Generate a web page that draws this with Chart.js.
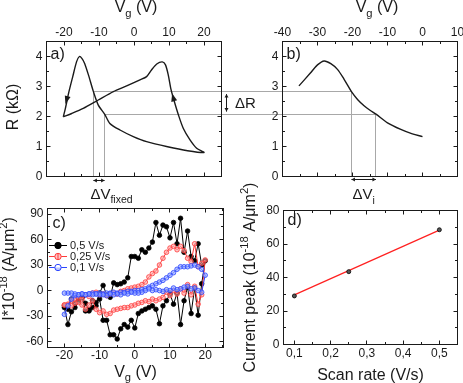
<!DOCTYPE html>
<html>
<head>
<meta charset="utf-8">
<title>Resistance hysteresis and current peaks</title>
<script src="https://cdn.jsdelivr.net/npm/chart.js@4.4.1/dist/chart.umd.min.js"></script>
<style>
  html, body { margin: 0; padding: 0; background: #fff; }
  #figure { position: relative; width: 463px; height: 383px; overflow: hidden; }
  #figure canvas { position: absolute; left: 0; top: 0; }
</style>
</head>
<body>
<div id="figure">
  <canvas id="panelA" width="463" height="383"></canvas>
  <canvas id="panelB" width="463" height="383"></canvas>
  <canvas id="panelC" width="463" height="383"></canvas>
  <canvas id="panelD" width="463" height="383"></canvas>
</div>
<script>
const W = 463, H = 383;
const FONT = '"Liberation Sans", Arial, sans-serif';
const INK = '#1a1a1a';
const GUIDE = '#a8a8a8';

// ---------- a) R(Vg) loop, fixed sweep ----------
const loopVg = [-20.2, -17.8, -14.5, -10.2, -5.9, -2.1, 1.7, 3.6, 5.0, 6.5, 8.1, 9.0, 9.8, 10.5, 11.4, 12.7, 14.1, 16.0, 17.9, 20.0,
  15.3, 9.6, 3.6, -0.2, -4.0, -6.9, -8.4, -10.2, -11.6, -13.0, -14.1, -14.9, -15.6, -16.4, -17.5, -18.7, -19.6, -20.2];
const loopR = [1.99, 2.10, 2.27, 2.55, 2.83, 3.02, 3.22, 3.33, 3.55, 3.75, 3.82, 3.72, 3.38, 2.94, 2.55, 2.05, 1.60, 1.22, 0.94, 0.80,
  0.86, 0.99, 1.16, 1.33, 1.55, 1.77, 2.08, 2.38, 2.83, 3.38, 3.77, 3.94, 4.00, 3.83, 3.33, 2.77, 2.27, 1.99];
// sweep-direction arrows on the loop (tail point -> tip point)
const arrowTail = [[-18.7, 2.77], [11.4, 2.55]];
const arrowTip = [[-19.6, 2.42], [10.9, 2.77]];

// ---------- b) R(Vg) single sweep ----------
const sweepVg = [-35.3, -32.1, -30.0, -28.1, -26.2, -24.3, -22.4, -20.3, -18.5, -16.7, -15.0, -13.3, -10.0, -6.2, -2.9, 0.0];
const sweepR = [3.02, 3.44, 3.72, 3.85, 3.76, 3.57, 3.24, 2.83, 2.56, 2.36, 2.21, 2.08, 1.79, 1.57, 1.42, 1.33];

// Delta R levels and the gate voltages where they are reached
const dRLevels = [2.83, 2.08];
const fixedVg = [-11.6, -8.4];
const singleVg = [-20.3, -13.3];

// ---------- c) I(Vg) loops for three scan rates ----------
const vgUp = [-20, -19, -18, -17, -16, -15, -14, -13, -12, -11, -10, -9, -8, -7, -6, -5, -4, -3, -2, -1,
  0, 1, 2, 3, 4, 5, 6, 7, 8, 9, 10, 11, 12, 13, 14, 15, 16, 17, 18, 19, 20];
const vgDown = [19, 18, 17, 16, 15, 14, 13, 12, 11, 10, 9, 8, 7, 6, 5, 4, 3, 2, 1, 0,
  -1, -2, -3, -4, -5, -6, -7, -8, -9, -10, -11, -12, -13, -14, -15, -16, -17, -18, -19, -20];
const rateLabels = ['0,5 V/s', '0,25 V/s', '0,1 V/s'];

const fastUp = [-20, -40, -25, -20, -12, -8, -24, -24, -12, -18, -3, 6, -5, -8, 9, 7, 8, 10, 15, 40,
  40, 38, 48, 45, 50, 57, 80, 65, 77, 75, 62, 80, 55, 85, 45, 70, 40, 35, 55, 30, 35];
const fastDown = [8, -29, 3, -27, 4, -12, -40, -3, -16, -4, -12, -18, -39, -22, -18, -20, -22, -24, -27, -44,
  -35, -43, -40, -45, -57, -52, -52, -35, -35, -10, -14, -20, -23, -15, -8, -12, -15, -10, -22, -18];

const medUp = [-17, -16, -12, -10, -8, -10, -5, -7, -3, -2, -5, -4, -6, -4, -3, -4, -1, 0, 2, 3,
  4, 5, 7, 10, 16, 20, 23, 30, 38, 45, 50, 52, 48, 52, 47, 38, 34, 55, 28, 32, 36];
const medDown = [-5, -16, 5, -5, 7, -3, 2, -4, 0, -6, -2, -8, -10, -12, -10, -13, -12, -14, -15, -17,
  -18, -20, -20, -21, -22, -23, -27, -28, -24, -26, -22, -12, -17, -22, -17, -14, -15, -18, -17, -17];

const slowUp = [-28, -18, -10, -6, -5, -4, -5, -4, -3, -4, -3, -4, -3, -3, -2, -3, -2, -2, -1, -1,
  0, 0, 1, 2, 4, 6, 8, 10, 12, 15, 18, 21, 25, 28, 28, 28, 29, 30, 28, 25, 18];
const slowDown = [-2, 0, 3, 2, 5, 4, 2, 1, 3, 0, 1, -1, 0, 1, 0, 2, 0, -2, -3, -3,
  -2, -4, -3, -5, -4, -5, -4, -6, -5, -5, -4, -5, -4, -5, -4, -5, -4, -3, -3, -3];

// ---------- d) current peak vs scan rate ----------
const scanRate = [0.1, 0.25, 0.5];
const currentPeak = [29, 43.5, 68.5];
const fitRate = [0.1, 0.5];
const fitPeak = [29.6, 68.3];

// ---------- tick values ----------
const vgTicksA = [-20, -10, 0, 10, 20];
const vgTicksB = [-40, -30, -20, -10, 0, 10];
const rTicks = [0, 1, 2, 3, 4];
const vgTicksC = [-20, -10, 0, 10, 20];
const iTicks = [-60, -30, 0, 30, 60, 90];
const rateTicks = [0.1, 0.2, 0.3, 0.4, 0.5];
const peakTicks = [0, 20, 40, 60, 80];

// ---------- layout ----------
const PANEL = {
  a: { left: 46.5, right: 221.5, top: 41.5, bottom: 176.5 },
  b: { left: 282.5, right: 457.5, top: 41.5, bottom: 176.5 },
  c: { left: 47.5, right: 223.5, top: 208.5, bottom: 347.5 },
  d: { left: 283.5, right: 457.5, top: 210.5, bottom: 344.5 }
};
const Y_AXIS_W = 40, X_AXIS_H = 24;

const rateStyles = [
  { color: '#000000', fill: '#000000' },
  { color: '#ff3b3b', fill: 'rgba(255,160,160,0.6)' },
  { color: '#2b45ff', fill: 'rgba(140,160,255,0.6)' }
];

function points(xs, ys) { return xs.map((x, i) => ({ x, y: ys[i] })); }
function loopPoints(up, down) { return points(vgUp, up).concat(points(vgDown, down)); }
function snap(v) { return Math.round(v - 0.5) + 0.5; }

function padding(p, xPos) {
  return {
    left: p.left - Y_AXIS_W,
    right: W - p.right,
    top: xPos === 'top' ? p.top - X_AXIS_H : p.top,
    bottom: xPos === 'bottom' ? H - p.bottom - X_AXIS_H : H - p.bottom
  };
}

function axis(position, min, max, values, pad, format) {
  const horizontal = position === 'top' || position === 'bottom';
  return {
    type: 'linear', position, min, max,
    grid: { display: false, drawTicks: false },
    border: { display: false },
    ticks: {
      autoSkip: false, maxRotation: 0, minRotation: 0,
      padding: pad, color: INK, font: { family: FONT, size: 12 },
      callback: format || (v => String(Math.round(v)))
    },
    afterBuildTicks(scale) {
      scale.ticks = values.map(value => ({ value }));
    },
    afterFit(scale) {
      if (horizontal) scale.height = X_AXIS_H; else scale.width = Y_AXIS_W;
      scale.paddingLeft = scale.paddingRight = scale.paddingTop = scale.paddingBottom = 0;
    }
  };
}

function baseOptions(p, xPos, scales) {
  return {
    responsive: false, animation: false, events: [],
    layout: { padding: padding(p, xPos) },
    plugins: { legend: { display: false }, tooltip: { enabled: false } },
    scales
  };
}

// box with inward major/minor ticks on all four sides
function frame(xSteps, ySteps) {
  return {
    id: 'frame',
    afterDraw(chart) {
      const { ctx, chartArea: a, scales: { x, y } } = chart;
      ctx.save();
      ctx.strokeStyle = INK;
      ctx.lineWidth = 1;
      ctx.strokeRect(a.left, a.top, a.right - a.left, a.bottom - a.top);
      ctx.beginPath();
      eachTick(x, xSteps, (px, len) => {
        ctx.moveTo(px, a.bottom); ctx.lineTo(px, a.bottom - len);
        ctx.moveTo(px, a.top); ctx.lineTo(px, a.top + len);
      });
      eachTick(y, ySteps, (py, len) => {
        ctx.moveTo(a.left, py); ctx.lineTo(a.left + len, py);
        ctx.moveTo(a.right, py); ctx.lineTo(a.right - len, py);
      });
      ctx.stroke();
      ctx.restore();
    }
  };
}

function eachTick(scale, [major, minor], fn) {
  for (let k = Math.ceil(scale.min / minor - 1e-6); k * minor <= scale.max + 1e-9; k++) {
    const v = k * minor;
    const isMajor = Math.abs(v / major - Math.round(v / major)) < 1e-6;
    fn(snap(scale.getPixelForValue(v)), isMajor ? 4 : 2.5);
  }
}

function overlay(hooks) {
  return { id: 'overlay', beforeDatasetsDraw: hooks.before, afterDraw: hooks.after };
}

// text with sub/superscripts; x,y = anchor on the baseline
function richText(ctx, parts, x, y, size, opts = {}) {
  const small = size * 0.7;
  ctx.save();
  ctx.translate(x, y);
  if (opts.rotate) ctx.rotate(-Math.PI / 2);
  ctx.fillStyle = INK;
  ctx.textAlign = 'left';
  ctx.textBaseline = 'alphabetic';
  const fontOf = m => (m ? small : size) + 'px ' + FONT;
  let width = 0;
  for (const [t, m] of parts) { ctx.font = fontOf(m); width += ctx.measureText(t).width; }
  let cx = opts.align === 'left' ? 0 : -width / 2;
  for (const [t, m] of parts) {
    ctx.font = fontOf(m);
    const dy = m === 'sub' ? size * 0.3 : m === 'sup' ? -size * 0.42 : 0;
    ctx.fillText(t, cx, dy);
    cx += ctx.measureText(t).width;
  }
  ctx.restore();
}

function panelLabel(ctx, text, x, y) {
  ctx.save();
  ctx.fillStyle = INK;
  ctx.font = '16px ' + FONT;
  ctx.textBaseline = 'alphabetic';
  ctx.fillText(text, x, y);
  ctx.restore();
}

function arrowHead(ctx, x0, y0, x1, y1, len, half) {
  const ang = Math.atan2(y1 - y0, x1 - x0);
  ctx.save();
  ctx.translate(x1, y1);
  ctx.rotate(ang);
  ctx.beginPath();
  ctx.moveTo(0, 0);
  ctx.lineTo(-len, -half);
  ctx.lineTo(-len, half);
  ctx.closePath();
  ctx.fill();
  ctx.restore();
}

function doubleArrow(ctx, x0, y0, x1, y1) {
  ctx.save();
  ctx.strokeStyle = INK;
  ctx.fillStyle = INK;
  ctx.lineWidth = 1;
  ctx.beginPath();
  ctx.moveTo(x0, y0);
  ctx.lineTo(x1, y1);
  ctx.stroke();
  arrowHead(ctx, x1, y1, x0, y0, 3.5, 2);
  arrowHead(ctx, x0, y0, x1, y1, 3.5, 2);
  ctx.restore();
}

const VG_TITLE = [['V', ''], ['g', 'sub'], [' (V)', '']];

// ---------- panel a ----------
new Chart(document.getElementById('panelA'), {
  type: 'scatter',
  data: {
    datasets: [{
      data: points(loopVg, loopR), showLine: true, borderColor: INK, borderWidth: 1.4,
      pointRadius: 0, tension: 0.25
    }]
  },
  options: baseOptions(PANEL.a, 'top', {
    x: axis('top', -25, 25, vgTicksA, 2),
    y: axis('left', 0, 4.5, rTicks, 4)
  }),
  plugins: [frame([10, 5], [1, 0.5]), overlay({
    before(chart) {
      const { ctx, chartArea: a, scales: { x, y } } = chart;
      ctx.save();
      ctx.strokeStyle = GUIDE;
      ctx.lineWidth = 1;
      fixedVg.forEach((v, i) => {
        const px = snap(x.getPixelForValue(v));
        const py = snap(y.getPixelForValue(dRLevels[i]));
        ctx.beginPath();
        ctx.moveTo(px, a.bottom);
        ctx.lineTo(px, py);
        ctx.lineTo(PANEL.b.left, py);
        ctx.stroke();
      });
      ctx.restore();
    },
    after(chart) {
      const { ctx, chartArea: a, scales: { x, y } } = chart;
      ctx.save();
      ctx.fillStyle = INK;
      arrowTip.forEach((tip, i) => {
        const tail = arrowTail[i];
        arrowHead(ctx, x.getPixelForValue(tail[0]), y.getPixelForValue(tail[1]),
          x.getPixelForValue(tip[0]), y.getPixelForValue(tip[1]), 8, 3);
      });
      ctx.restore();

      // Delta R marker in the gap between a) and b)
      const y0 = y.getPixelForValue(dRLevels[0]);
      const y1 = y.getPixelForValue(dRLevels[1]);
      const ax = snap(a.right + 5);
      doubleArrow(ctx, ax, y0 + 2.5, ax, y1 - 2.5);
      richText(ctx, [['\u0394R', '']], a.right + 13.5, (y0 + y1) / 2 + 5.5, 15, { align: 'left' });

      // Delta V fixed under the axis
      const x0 = x.getPixelForValue(fixedVg[0]);
      const x1 = x.getPixelForValue(fixedVg[1]);
      doubleArrow(ctx, x0, snap(a.bottom + 4), x1, snap(a.bottom + 4));
      richText(ctx, [['\u0394V', ''], ['fixed', 'sub']], x0 - 3, a.bottom + 22, 15, { align: 'left' });

      richText(ctx, VG_TITLE, (a.left + a.right) / 2 + 2, a.top - 29.5, 16);
      richText(ctx, [['R (k\u03A9)', '']], a.left - 29, (a.top + a.bottom) / 2 - 2, 16, { rotate: true });
      panelLabel(ctx, 'a)', a.left + 4, a.top + 17);
    }
  })]
});

// ---------- panel b ----------
new Chart(document.getElementById('panelB'), {
  type: 'scatter',
  data: {
    datasets: [{
      data: points(sweepVg, sweepR), showLine: true, borderColor: INK, borderWidth: 1.4,
      pointRadius: 0, tension: 0.3
    }]
  },
  options: baseOptions(PANEL.b, 'top', {
    x: axis('top', -40, 10, vgTicksB, 2),
    y: axis('left', 0, 4.5, rTicks, 4)
  }),
  plugins: [frame([10, 5], [1, 0.5]), overlay({
    before(chart) {
      const { ctx, chartArea: a, scales: { x, y } } = chart;
      ctx.save();
      ctx.strokeStyle = GUIDE;
      ctx.lineWidth = 1;
      singleVg.forEach((v, i) => {
        const px = snap(x.getPixelForValue(v));
        const py = snap(y.getPixelForValue(dRLevels[i]));
        ctx.beginPath();
        ctx.moveTo(a.left, py);
        ctx.lineTo(px, py);
        ctx.lineTo(px, a.bottom);
        ctx.stroke();
      });
      ctx.restore();
    },
    after(chart) {
      const { ctx, chartArea: a, scales: { x } } = chart;
      const x0 = x.getPixelForValue(singleVg[0]);
      const x1 = x.getPixelForValue(singleVg[1]);
      doubleArrow(ctx, x0, snap(a.bottom + 3), x1, snap(a.bottom + 3));
      richText(ctx, [['\u0394V', ''], ['i', 'sub']], (x0 + x1) / 2, a.bottom + 22.5, 15);

      richText(ctx, VG_TITLE, (a.left + a.right) / 2 + 7, a.top - 29.5, 16);
      panelLabel(ctx, 'b)', a.left + 4, a.top + 17);
    }
  })]
});

// ---------- panel c ----------
function sweepSet(up, down, style) {
  return {
    data: loopPoints(up, down), showLine: true, borderColor: style.color, borderWidth: 1,
    pointRadius: 2.3, pointBackgroundColor: style.fill, pointBorderColor: style.color,
    pointBorderWidth: 0.8, tension: 0
  };
}

function drawRateLegend(ctx, a) {
  ctx.save();
  ctx.font = '11px ' + FONT;
  ctx.textBaseline = 'middle';
  ctx.textAlign = 'left';
  rateLabels.forEach((label, i) => {
    const s = rateStyles[i];
    const y = snap(a.top + 37 + i * 11);
    const x0 = a.left + 1.5;
    const mx = x0 + 9;
    ctx.strokeStyle = s.color;
    ctx.lineWidth = 1;
    ctx.beginPath();
    ctx.moveTo(x0, y);
    ctx.lineTo(x0 + 18, y);
    ctx.stroke();
    ctx.beginPath();
    ctx.arc(mx, y, 3.2, 0, Math.PI * 2);
    ctx.fillStyle = i === 0 ? s.color : '#ffffff';
    ctx.fill();
    if (i === 2) {
      ctx.beginPath();
      ctx.arc(mx, y, 3.2, 0, Math.PI);
      ctx.fillStyle = s.fill;
      ctx.fill();
    }
    if (i === 1) {
      ctx.fillStyle = s.fill;
      ctx.beginPath();
      ctx.arc(mx, y, 3.2, 0, Math.PI * 2);
      ctx.fill();
      ctx.beginPath();
      ctx.moveTo(mx, y - 3.2);
      ctx.lineTo(mx, y + 3.2);
      ctx.stroke();
    }
    ctx.beginPath();
    ctx.arc(mx, y, 3.2, 0, Math.PI * 2);
    ctx.stroke();
    ctx.fillStyle = INK;
    ctx.fillText(label, x0 + 21, y);
  });
  ctx.restore();
}

new Chart(document.getElementById('panelC'), {
  type: 'scatter',
  data: {
    datasets: [
      sweepSet(slowUp, slowDown, rateStyles[2]),
      sweepSet(medUp, medDown, rateStyles[1]),
      sweepSet(fastUp, fastDown, rateStyles[0])
    ]
  },
  options: baseOptions(PANEL.c, 'bottom', {
    x: axis('bottom', -24.8, 25.2, vgTicksC, 1),
    y: axis('left', -67, 96.5, iTicks, 4)
  }),
  plugins: [frame([10, 5], [30, 15]), overlay({
    after(chart) {
      const { ctx, chartArea: a } = chart;
      drawRateLegend(ctx, a);
      richText(ctx, VG_TITLE, (a.left + a.right) / 2, a.bottom + 29, 16);
      richText(ctx, [['I*10', ''], ['-18', 'sup'], [' (A/\u03BCm', ''], ['2', 'sup'], [')', '']],
        a.left - 34, (a.top + a.bottom) / 2 - 9, 16, { rotate: true });
      panelLabel(ctx, 'c)', a.left + 5, a.top + 19);
    }
  })]
});

// ---------- panel d ----------
new Chart(document.getElementById('panelD'), {
  type: 'scatter',
  data: {
    datasets: [
      {
        data: points(scanRate, currentPeak), pointRadius: 2, pointBackgroundColor: '#555555',
        pointBorderColor: '#000000', pointBorderWidth: 0.8
      },
      {
        data: points(fitRate, fitPeak), showLine: true, borderColor: '#ff2020', borderWidth: 1.2,
        pointRadius: 0
      }
    ]
  },
  options: baseOptions(PANEL.d, 'bottom', {
    x: axis('bottom', 0.07, 0.55, rateTicks, 2, v => v.toFixed(1).replace('.', ',')),
    y: axis('left', 0, 80, peakTicks, 4)
  }),
  plugins: [frame([0.1, 0.05], [20, 10]), overlay({
    after(chart) {
      const { ctx, chartArea: a } = chart;
      richText(ctx, [['Scan rate (V/s)', '']], (a.left + a.right) / 2, a.bottom + 35, 16);
      richText(ctx, [['Current peak (10', ''], ['-18', 'sup'], [' A/\u03BCm', ''], ['2', 'sup'], [')', '']],
        a.left - 28.5, (a.top + a.bottom) / 2, 16, { rotate: true });
      panelLabel(ctx, 'd)', a.left + 4, a.top + 14.5);
    }
  })]
});
</script>
</body>
</html>
